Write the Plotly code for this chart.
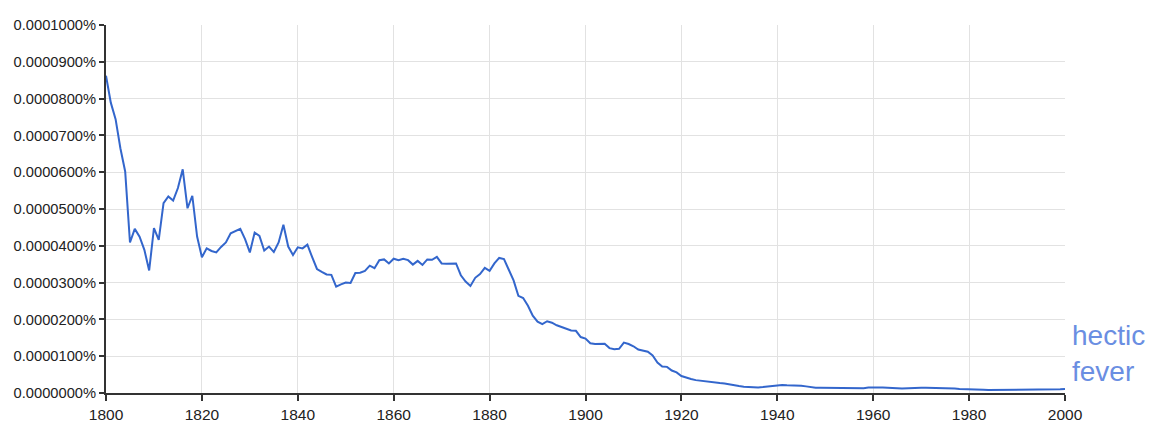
import plotly.graph_objects as go

# Years 1800..2000
years = list(range(1800, 2001))

# Frequency of "hectic fever", in units of 0.000001 %
freq_units = [
    86.2, 78.9, 74.4, 66.5, 60.2, 40.9, 44.6, 42.5, 38.9, 33.3,   # 1800s
    44.8, 41.6, 51.6, 53.4, 52.3, 55.7, 60.8, 50.2, 53.6, 42.5,   # 1810s
    36.9, 39.3, 38.6, 38.2, 39.7, 40.9, 43.4, 43.9, 44.6, 41.8,   # 1820s
    38.2, 43.6, 42.7, 38.7, 39.8, 38.3, 40.9, 45.7, 39.8, 37.5,   # 1830s
    39.6, 39.3, 40.3, 36.9, 33.7, 32.9, 32.2, 32.1, 28.9, 29.5,   # 1840s
    30.0, 29.9, 32.6, 32.7, 33.2, 34.6, 33.9, 36.1, 36.3, 35.2,   # 1850s
    36.5, 36.1, 36.5, 36.1, 34.9, 35.9, 34.8, 36.3, 36.2, 37.0,   # 1860s
    35.2, 35.1, 35.1, 35.2, 32.0, 30.3, 29.1, 31.3, 32.3, 34.0,   # 1870s
    33.2, 35.2, 36.7, 36.4, 33.5, 30.6, 26.4, 25.8, 23.7, 21.0,   # 1880s
    19.4, 18.7, 19.5, 19.1, 18.4, 18.0, 17.4, 17.0, 16.9, 15.2,   # 1890s
    14.8, 13.5, 13.3, 13.3, 13.4, 12.2, 11.9, 12.0, 13.7, 13.3,   # 1900s
    12.7, 11.8, 11.6, 11.2, 10.2, 8.3, 7.2, 7.1, 6.1, 5.6,        # 1910s
    4.6, 4.1, 3.8, 3.5, 3.3, 3.1, 2.9, 2.7, 2.7, 2.6,             # 1920s
    2.3, 2.1, 1.9, 1.7, 1.6, 1.5, 1.5, 1.6, 1.8, 2.0,             # 1930s
    2.1, 2.2, 2.1, 2.1, 2.1, 2.0, 1.8, 1.5, 1.4, 1.4,             # 1940s
    1.4, 1.4, 1.3, 1.2, 1.3, 1.4, 1.3, 1.3, 1.3, 1.5,             # 1950s
    1.6, 1.5, 1.5, 1.5, 1.4, 1.3, 1.2, 1.3, 1.4, 1.4,             # 1960s
    1.4, 1.4, 1.4, 1.4, 1.3, 1.3, 1.2, 1.2, 1.1, 1.1,             # 1970s
    1.1, 1.1, 1.0, 0.9, 0.8, 0.8, 0.8, 0.8, 0.8, 0.8,             # 1980s
    0.8, 0.8, 0.8, 0.8, 0.9, 0.9, 0.9, 1.0, 1.0, 1.0,             # 1990s
    1.1,                                                          # 2000
]
freq_pct = [v * 1e-6 for v in freq_units]

series_label = "hectic<br>fever"

x_ticks = [1800, 1820, 1840, 1860, 1880, 1900, 1920, 1940, 1960, 1980, 2000]
y_tick_vals = [i * 1e-5 for i in range(11)]
y_tick_text = ["0.0000000%", "0.0000100%", "0.0000200%", "0.0000300%", "0.0000400%",
               "0.0000500%", "0.0000600%", "0.0000700%", "0.0000800%", "0.0000900%",
               "0.0001000%"]

font_family = "Liberation Sans, Arial, Helvetica, sans-serif"

fig = go.Figure()
fig.add_trace(go.Scatter(
    x=years, y=freq_pct, mode="lines",
    line=dict(color="#3366CC", width=2),
    showlegend=False, hoverinfo="x+y",
))

fig.add_annotation(
    xref="paper", yref="paper", x=1, y=0.03,
    xanchor="left", yanchor="bottom", xshift=5, yshift=-7,
    text=series_label, showarrow=False, align="left",
    font=dict(family=font_family, size=28, color="#6A8EE2"),
)

fig.update_layout(
    width=1147, height=417,
    margin=dict(l=98, r=90, t=17, b=32),
    paper_bgcolor="white", plot_bgcolor="white",
    font=dict(family=font_family, size=14, color="#222222"),
    xaxis=dict(
        range=[1800, 2000], tickvals=x_ticks,
        tickfont=dict(size=15.5),
        showgrid=True, gridcolor="#E2E2E2", gridwidth=1,
        showline=True, linecolor="#333333", linewidth=2,
        ticks="outside", ticklen=6, tickcolor="#333333", tickwidth=2,
        zeroline=False, fixedrange=True, automargin=False,
    ),
    yaxis=dict(
        range=[0, 1e-4], tickvals=y_tick_vals, ticktext=y_tick_text,
        tickfont=dict(size=14.7),
        showgrid=True, gridcolor="#E2E2E2", gridwidth=1,
        showline=True, linecolor="#333333", linewidth=2,
        ticks="outside", ticklen=5, tickcolor="#333333", tickwidth=2,
        zeroline=False, fixedrange=True, automargin=False,
    ),
)

fig.write_html("out.html")
